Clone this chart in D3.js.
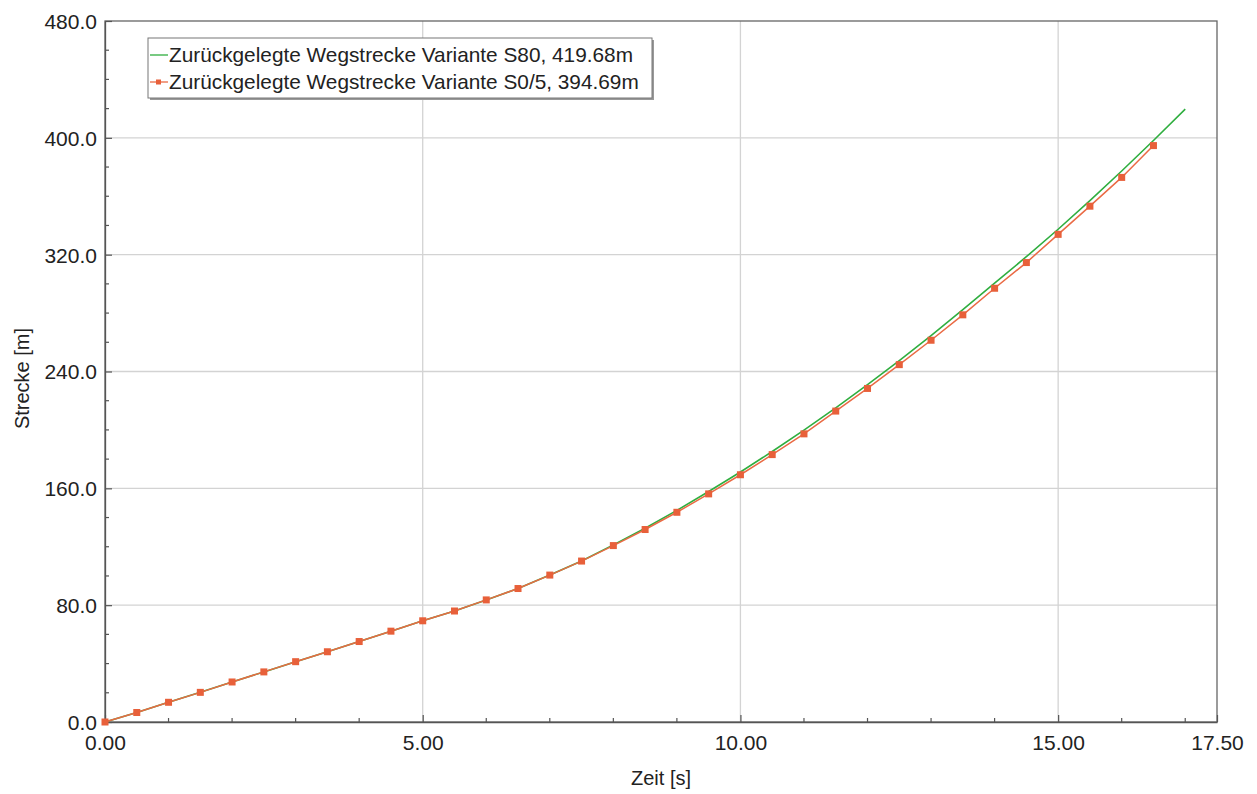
<!DOCTYPE html>
<html>
<head>
<meta charset="utf-8">
<script src="https://cdn.jsdelivr.net/npm/d3@7"></script>
<style>
  html, body { margin: 0; padding: 0; background: #fff; }
  svg { display: block; font-family: "Liberation Sans", Arial, sans-serif; }
</style>
</head>
<body>
<svg id="chart" width="1257" height="794"></svg>
<script>
// Time samples [s]
const timeS0 = [0, 0.5, 1, 1.5, 2, 2.5, 3, 3.5, 4, 4.5, 5, 5.5, 6, 6.5, 7, 7.5, 8, 8.5,
  9, 9.5, 10, 10.5, 11, 11.5, 12, 12.5, 13, 13.5, 14, 14.5, 15, 15.5, 16, 16.5];
const timeS80 = [0, 0.5, 1, 1.5, 2, 2.5, 3, 3.5, 4, 4.5, 5, 5.5, 6, 6.5, 7, 7.5, 8, 8.5,
  9, 9.5, 10, 10.5, 11, 11.5, 12, 12.5, 13, 13.5, 14, 14.5, 15, 15.5, 16, 16.5, 17];

// Distance travelled [m]
const distS0 = [0, 6.5, 13.5, 20.3, 27.4, 34.3, 41.3, 48.1, 55.1, 62.2, 69.3, 76.0, 83.6,
  91.4, 100.6, 110.2, 120.8, 131.8, 143.6, 156.2, 169.3, 183.1, 197.3, 212.9, 228.4,
  244.7, 261.4, 278.8, 297.0, 314.6, 333.9, 353.2, 372.9, 394.69];
const distS80 = [0, 6.5, 13.5, 20.3, 27.4, 34.3, 41.3, 48.1, 55.1, 62.2, 69.3, 76.0, 83.6,
  91.4, 100.6, 110.3, 121.3, 132.7, 144.9, 157.8, 171.2, 185.2, 199.8, 215.1, 231.0,
  247.5, 264.6, 282.3, 300.5, 318.6, 337.4, 357.0, 377.3, 398.2, 419.68];

const seriesNames = [
  "Zurückgelegte Wegstrecke Variante S80, 419.68m",
  "Zurückgelegte Wegstrecke Variante S0/5, 394.69m"
];

const xTickValues = [0, 5, 10, 15, 17.5];
const yTickValues = [0, 80, 160, 240, 320, 400, 480];
const xTitle = "Zeit [s]";
const yTitle = "Strecke [m]";

const colGreen = "#2fae3f";
const colRed = "#ea6a44";
const colMarker = "#e8603a";

const svg = d3.select("#chart");
const m = { left: 105, right: 1257 - 1217, top: 21, bottom: 794 - 722 };
const W = 1257 - m.left - m.right;
const H = 794 - m.top - m.bottom;

const x = d3.scaleLinear().domain([0, 17.5]).range([0, W]);
const y = d3.scaleLinear().domain([0, 480]).range([H, 0]);

const g = svg.append("g").attr("transform", `translate(${m.left},${m.top})`);

// grid lines
g.append("g")
  .selectAll("line.gx")
  .data([5, 10, 15])
  .join("line")
  .attr("x1", d => x(d)).attr("x2", d => x(d))
  .attr("y1", 0).attr("y2", H)
  .attr("stroke", "#d3d3d3").attr("stroke-width", 1.3);
g.append("g")
  .selectAll("line.gy")
  .data([80, 160, 240, 320, 400])
  .join("line")
  .attr("y1", d => y(d)).attr("y2", d => y(d))
  .attr("x1", 0).attr("x2", W)
  .attr("stroke", "#d3d3d3").attr("stroke-width", 1.3);

// frame
g.append("rect")
  .attr("x", 0).attr("y", 0).attr("width", W).attr("height", H)
  .attr("fill", "none").attr("stroke", "#666").attr("stroke-width", 1.3);

// minor ticks (inside)
const minorX = d3.range(1, 18).filter(v => v % 5 !== 0);
const minorY = d3.range(20, 480, 20).filter(v => v % 80 !== 0);
g.append("g").selectAll("line")
  .data(minorX).join("line")
  .attr("x1", d => x(d)).attr("x2", d => x(d))
  .attr("y1", H).attr("y2", H - 4)
  .attr("stroke", "#555").attr("stroke-width", 1.2);
g.append("g").selectAll("line")
  .data(minorY).join("line")
  .attr("y1", d => y(d)).attr("y2", d => y(d))
  .attr("x1", 0).attr("x2", 4)
  .attr("stroke", "#555").attr("stroke-width", 1.2);

// major ticks via axes
const xAxis = d3.axisBottom(x).tickValues(xTickValues).tickSizeInner(-7).tickSizeOuter(0)
  .tickPadding(10).tickFormat(d3.format(".2f"));
const yAxis = d3.axisLeft(y).tickValues(yTickValues).tickSizeInner(-7).tickSizeOuter(0)
  .tickPadding(8).tickFormat(d3.format(".1f"));

const gx = g.append("g").attr("transform", `translate(0,${H})`).call(xAxis);
const gy = g.append("g").call(yAxis);
[gx, gy].forEach(a => {
  a.select(".domain").attr("stroke", "#555").attr("stroke-width", 1.3);
  a.selectAll(".tick line").attr("stroke", "#555").attr("stroke-width", 1.2);
  a.selectAll(".tick text")
    .attr("fill", "#222")
    .style("font-size", "21px")
    .style("font-family", "'Liberation Sans', Arial, sans-serif");
});
gx.selectAll(".tick text").attr("dy", "0.85em");
gy.selectAll(".tick text").attr("dy", "0.35em");

// axis titles
svg.append("text")
  .attr("x", m.left + W / 2 + 0).attr("y", 785)
  .attr("text-anchor", "middle")
  .attr("fill", "#222")
  .style("font-size", "20px")
  .text(xTitle);
svg.append("text")
  .attr("transform", `translate(29,${m.top + H / 2 + 7}) rotate(-90)`)
  .attr("text-anchor", "middle")
  .attr("fill", "#222")
  .style("font-size", "20px")
  .text(yTitle);

// curves
const line = d3.line().x(d => x(d[0])).y(d => y(d[1]));
const s80 = timeS80.map((t, i) => [t, distS80[i]]);
const s0 = timeS0.map((t, i) => [t, distS0[i]]);

g.append("path").datum(s80).attr("d", line)
  .attr("fill", "none").attr("stroke", colGreen).attr("stroke-width", 1.6);
g.append("path").datum(s0).attr("d", line)
  .attr("fill", "none").attr("stroke", colRed).attr("stroke-width", 1.5);
g.append("g").selectAll("rect")
  .data(s0).join("rect")
  .attr("x", d => x(d[0]) - 3.5).attr("y", d => y(d[1]) - 3.5)
  .attr("width", 7).attr("height", 7)
  .attr("fill", colMarker);

// legend
const lg = svg.append("g").attr("transform", "translate(148,38)");
lg.append("rect").attr("x", 2).attr("y", 2).attr("width", 504).attr("height", 60)
  .attr("fill", "#999");
lg.append("rect").attr("x", 0).attr("y", 0).attr("width", 504).attr("height", 60)
  .attr("fill", "#fff").attr("stroke", "#777").attr("stroke-width", 1);
const items = [
  { name: seriesNames[0], color: colGreen, marker: false },
  { name: seriesNames[1], color: colRed, marker: true }
];
items.forEach((it, i) => {
  const cy = 17 + i * 27;
  lg.append("line").attr("x1", 2).attr("x2", 20).attr("y1", cy).attr("y2", cy)
    .attr("stroke", it.color).attr("stroke-width", 1.3);
  if (it.marker) {
    lg.append("rect").attr("x", 8).attr("y", cy - 2.5).attr("width", 5).attr("height", 5)
      .attr("fill", colMarker);
  }
  lg.append("text").attr("x", 21).attr("y", cy).attr("dy", "0.35em")
    .attr("fill", "#222")
    .style("font-size", "20.8px")
    .text(it.name);
});
</script>
</body>
</html>
